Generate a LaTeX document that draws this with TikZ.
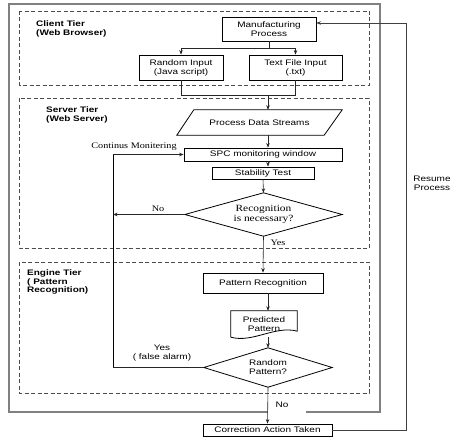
\documentclass[tikz,border=0pt]{standalone}
\usepackage{fontspec}
\setmainfont{Liberation Serif}
\setsansfont{Liberation Sans}
\newfontfamily\sfw[FakeStretch=1.25]{Liberation Sans}
\newfontfamily\rmw[FakeStretch=1.2]{Liberation Serif}
\usetikzlibrary{arrows.meta,calc}
\begin{document}
\begin{tikzpicture}[x=1pt,y=-1pt,
  arr/.style={-{Stealth[length=4.5pt,width=3.5pt]}, line width=0.6pt, draw=black!85},
  ln/.style={line width=0.6pt, draw=black!85},
  box/.style={draw, line width=0.8pt, inner sep=0pt, font=\sfw\fontsize{8}{9}\selectfont, align=center},
  txt/.style={inner sep=0pt, font=\sfw\fontsize{8}{9}\selectfont, align=center},
  stxt/.style={inner sep=0pt, font=\rmw\fontsize{8.5}{9}\selectfont, align=center},
  tier/.style={draw=black!70, dash pattern=on 4pt off 2.5pt, line width=0.7pt},
  tiertitle/.style={inner sep=0pt, anchor=north west, align=left, font=\sfw\bfseries\fontsize{8}{8.3}\selectfont},
]
\useasboundingbox (0,0) rectangle (474,444);
% outer frame
\draw[draw=black!50, line width=1.3pt] (268,412) -- (9,412) -- (9,4) -- (380,4) -- (380,412) -- (306,412);
% tiers
\draw[tier] (19,11) rectangle (369,85);
\draw[tier] (19,98) rectangle (369,248);
\draw[tier] (19,262) rectangle (369,393);
\node[tiertitle] (t1) at (36,21) {Client Tier\\(Web Browser)};
\node[tiertitle] (t2) at (46,107) {Server Tier\\(Web Server)};
\node[tiertitle] (t3) at (27,270) {Engine Tier\\( Pattern\\Recognition)};
% nodes
\node[box, minimum width=94pt, minimum height=24pt] (mp) at (269,29) {Manufacturing\\Process};
\node[box, minimum width=84pt, minimum height=25pt] (ri) at (181,67.5) {Random Input\\(Java script)};
\node[box, minimum width=93pt, minimum height=25pt] (tf) at (295.5,67.5) {Text File Input\\(.txt)};
\node[txt, minimum width=165pt, minimum height=25pt] (pds) at (259.5,122.5) {Process Data Streams};
\draw[line width=0.8pt] (pds.south west) -- ($(pds.north west)+(17,0)$) -- (pds.north east) -- ($(pds.south east)+(-18,0)$) -- cycle;
\node[box, minimum width=158pt, minimum height=13pt] (spc) at (263,154.5) {SPC monitoring window};
\node[box, minimum width=102pt, minimum height=12pt] (st) at (263,173) {Stability Test};
\node[stxt, font=\rmw\fontsize{9.5}{9.5}\selectfont, minimum width=157pt, minimum height=43pt] (d1) at (263.5,214.5) {Recognition\\is necessary?};
\draw[line width=0.8pt] (d1.west) -- (d1.north) -- (d1.east) -- (d1.south) -- cycle;
\node[box, minimum width=120pt, minimum height=20pt] (pr) at (263,283) {Pattern Recognition};
\node[txt, minimum width=66pt, minimum height=26pt] (pp) at (264,324) {Predicted\\Pattern};
\draw[line width=0.8pt] (pp.south west) -- (pp.north west) -- (pp.north east) -- ($(pp.south east)+(0,-6)$)
  .. controls ($(pp.south east)+(-22,-12)$) and ($(pp.south west)+(22,6)$) .. (pp.south west);
\node[txt, minimum width=128pt, minimum height=39pt] (d2) at (268,367.5) {Random\\Pattern?};
\draw[line width=0.8pt] (d2.west) -- (d2.north) -- (d2.east) -- (d2.south) -- cycle;
\node[box, minimum width=129pt, minimum height=12pt] (ca) at (267.5,430) {Correction Action Taken};
% connectors top
\coordinate (s1) at (268,48);
\coordinate (m1) at (268,95);
\draw[ln] (mp.south) -- (mp.south |- s1);
\draw[ln] (ri.north |- s1) -- (tf.north |- s1);
\draw[arr] (ri.north |- s1) -- (ri.north);
\draw[arr] (tf.north |- s1) -- (tf.north);
\draw[ln] (ri.south) -- (ri.south |- m1) -- (tf.south |- m1) -- (tf.south);
\draw[arr] (m1) -- (m1 |- pds.north);
\draw[arr] (m1 |- pds.south) -- (m1 |- spc.north);
\draw[arr] (m1 |- spc.south) -- (m1 |- st.north);
\draw[arr] (st.south) -- (d1.north);
\draw[arr] (d1.south) -- (pr.north);
\draw[arr] (m1 |- pr.south) -- (m1 |- pp.north);
\draw[arr] (m1 |- pp.south) -- (d2.north);
\draw[arr] (d2.south) -- (ca.north);
% loop
\coordinate (lp) at (113,154.5);
\draw[arr] (lp) -- (spc.west);
\draw[line width=1pt] (lp) -- (lp |- d2.west);
\draw[ln] (d2.west) -- (d2.west -| lp);
\draw[arr] (d1.west) -- (d1.west -| lp);
% resume
\coordinate (rr) at (406,23);
\draw[arr, draw=black!75] (ca.east) -| (rr) -- (rr -| mp.east);
% labels
\node[stxt] (lcm) at (134,147) {Continus Monitering};
\node[stxt] (lno1) at (158,209) {No};
\node[stxt] (lyes1) at (278,243) {Yes};
\node[txt] (lyes2) at (162,353) {Yes\\( false alarm)};
\node[txt] (lno2) at (282,405) {No};
\node[txt] (lres) at (432,183.5) {Resume\\Process};
\end{tikzpicture}
\end{document}
